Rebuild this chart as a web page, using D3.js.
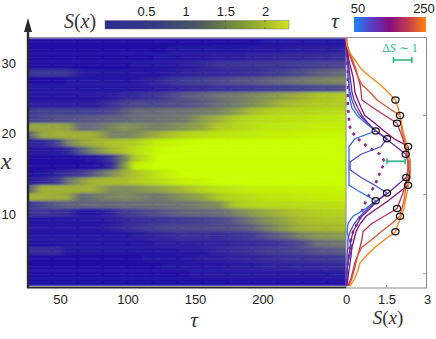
<!DOCTYPE html>
<html>
<head>
<meta charset="utf-8">
<script src="https://cdn.jsdelivr.net/npm/d3@7"></script>
<style>
  html, body { margin: 0; padding: 0; background: #fff; }
  svg { display: block; }
  text { font-family: "Liberation Sans", sans-serif; fill: #222; }
  .math { font-family: "Liberation Serif", serif; fill: #333; }
</style>
</head>
<body>
<div id="chart"></div>
<script>
// tau at each heatmap column
const tauCols = [28,37,48.5,56,66,74,78,88.5,98,105.5,122.6,142.6,155,167,179.6,192,204,216.7,229,241,262];

// S(x) per row, top row first
const heat = [
  [.08,.08,.08,.08,.08,.08,.08,.08,.08,.08,.08,.09,.09,.1,.1,.1,.11,.12,.13,.14,.15],
  [.1,.1,.1,.1,.1,.1,.1,.1,.1,.1,.1,.12,.12,.13,.14,.15,.17,.19,.2,.22,.25],
  [.1,.1,.1,.1,.1,.1,.1,.1,.1,.1,.11,.15,.17,.2,.22,.25,.28,.3,.32,.35,.38],
  [.1,.1,.1,.1,.1,.1,.1,.1,.1,.11,.12,.2,.3,.4,.42,.42,.45,.45,.5,.55,.6],
  [.42,.45,.45,.42,.2,.15,.14,.13,.13,.13,.14,.25,.3,.32,.35,.4,.45,.55,.65,.8,.95],
  [.1,.1,.1,.11,.11,.11,.12,.13,.14,.15,.3,.5,.55,.6,.7,.75,.85,.95,1.05,1.15,1.3],
  [.11,.11,.11,.11,.12,.12,.12,.13,.14,.16,.2,.32,.35,.4,.42,.45,.5,.52,.55,.62,.68],
  [.13,.13,.14,.14,.15,.15,.16,.2,.3,.32,.45,.75,.85,1,1.1,1.25,1.4,1.55,1.7,1.85,1.95],
  [.2,.2,.2,.2,.22,.22,.25,.4,.55,.6,.62,.7,.8,.95,1.1,1.3,1.55,1.75,1.85,1.9,1.95],
  [.5,.55,.55,.55,.55,.55,.55,.6,.8,.9,.95,1,1.1,1.2,1.5,1.8,1.95,2,2,2.05,2.1],
  [.55,.6,.7,.7,.75,.8,.8,.85,.9,.95,1,1.1,1.5,1.7,1.95,2.05,2.1,2.15,2.15,2.2,2.25],
  [1.6,1.6,1.6,1.55,.9,.95,1,1.2,1.4,1.3,1.15,1.4,1.6,1.9,2,2.1,2.2,2.2,2.25,2.3,2.3],
  [.9,1.6,1.7,1.7,1.7,1.7,1.6,1.2,1.2,1.3,1.7,2,2.1,2.15,2.2,2.25,2.3,2.3,2.35,2.35,2.4],
  [.25,.28,.6,1.2,1.6,1.7,1.75,1.85,1.9,1.95,2.3,2.45,2.5,2.5,2.5,2.5,2.5,2.5,2.5,2.5,2.5],
  [.15,.15,.2,.3,.8,1.2,1.4,1.75,1.9,2.1,2.45,2.5,2.5,2.5,2.5,2.5,2.5,2.5,2.5,2.5,2.5],
  [.1,.1,.1,.1,.1,.12,.2,.5,1.2,1.9,2.5,2.5,2.5,2.5,2.5,2.5,2.5,2.5,2.5,2.5,2.5],
  [.1,.1,.1,.1,.1,.1,.12,.35,1.5,2.3,2.5,2.5,2.5,2.5,2.5,2.5,2.5,2.5,2.5,2.5,2.5],
  [.1,.12,.3,.4,.5,.7,.9,1.3,1.7,1.85,2.2,2.5,2.5,2.5,2.5,2.5,2.5,2.5,2.5,2.5,2.5],
  [.2,.3,.5,1,1.5,1.7,1.75,1.8,1.8,1.9,2.1,2.35,2.4,2.5,2.5,2.5,2.5,2.5,2.5,2.5,2.5],
  [.9,1.7,1.7,1.7,1.7,1.7,1.6,1.3,1.3,1.35,1.55,1.8,2,2.15,2.2,2.3,2.3,2.3,2.35,2.35,2.4],
  [1.7,1.7,1.65,1.6,.9,1,1.1,1.2,1.3,1.2,1.05,1.4,1.6,1.9,2.05,2.1,2.2,2.2,2.25,2.3,2.3],
  [.45,.6,.8,.85,.88,.9,.9,.92,.95,.95,1,1.05,1.2,1.35,1.9,2,2.05,2.05,2.1,2.1,2.15],
  [.45,.45,.4,.35,.12,.12,.15,.3,.5,.55,.7,.9,.92,.95,1.2,1.5,1.65,1.8,1.9,1.95,2],
  [.13,.13,.13,.13,.14,.15,.16,.22,.3,.35,.42,.5,.55,.6,.8,1.1,1.4,1.6,1.8,1.85,1.9],
  [.15,.15,.15,.15,.16,.16,.18,.25,.35,.4,.55,.6,.62,.65,.7,.85,1.15,1.5,1.7,1.75,1.8],
  [.12,.12,.12,.12,.12,.12,.12,.13,.15,.2,.3,.4,.38,.35,.42,.5,.7,.9,1.2,1.4,1.5],
  [.12,.12,.12,.12,.12,.12,.12,.13,.14,.15,.2,.22,.25,.25,.3,.35,.4,.5,.65,.95,1.1],
  [.35,.35,.35,.15,.12,.12,.12,.12,.12,.12,.14,.15,.18,.3,.35,.4,.5,.55,.6,.7,.8],
  [.1,.1,.1,.1,.1,.1,.1,.1,.1,.1,.12,.15,.2,.22,.28,.3,.35,.4,.42,.45,.5],
  [.1,.1,.1,.1,.1,.1,.1,.1,.1,.1,.1,.15,.17,.18,.2,.22,.25,.27,.3,.32,.35],
  [.09,.09,.09,.09,.09,.09,.09,.09,.09,.09,.09,.1,.12,.12,.13,.15,.15,.16,.17,.18,.2],
  [.07,.07,.07,.07,.07,.07,.07,.07,.07,.07,.07,.07,.07,.07,.08,.08,.08,.08,.08,.09,.09]
];

// right panel: S(x) at every site (row edge), one list per tau
const curveTaus = [65, 90, 125, 150, 190, 220, 250];
const curveS = [
  [0,0,.04,.07,.11,.11,.11,.11,.15,.22,.41,.74,1.1,.33,.11,.11,.11,.11,.11,.11,.59,1.1,.74,.26,.07,.04,.11,.22,.15,.07,.04,0,0],
  [0,0,.04,.04,.07,.07,.11,.15,.22,.33,.52,.81,1.11,1.52,1.3,.56,.15,.15,.56,1.07,1.52,1.15,.81,.52,.3,.15,.07,.07,.04,.04,.04,0,0],
  [0,0,.04,.07,.11,.15,.19,.22,.3,.44,.59,.81,1.11,1.48,1.85,2.21,2.3,2.3,2.23,1.89,1.56,1.15,.89,.59,.41,.26,.19,.15,.11,.07,.04,.04,0],
  [0,.04,.07,.11,.19,.26,.3,.33,.44,.56,.7,1.07,1.41,1.78,2.3,2.33,2.37,2.37,2.33,2.3,1.93,1.56,1.15,.74,.52,.37,.3,.22,.19,.15,.11,.07,.04],
  [0,.04,.11,.22,.33,.44,.52,.56,.59,1,1.44,1.89,2,2.11,2.19,2.26,2.3,2.3,2.26,2.19,2.11,2,1.89,1.41,.93,.63,.59,.52,.44,.33,.26,.19,.07],
  [0,.04,.15,.26,.37,.44,.59,.89,1.15,1.56,2,2.04,2.07,2.15,2.22,2.26,2.3,2.3,2.26,2.22,2.19,2.15,2.07,2,1.67,1.3,.96,.59,.44,.37,.3,.22,.11],
  [0,.04,.15,.37,.56,.89,1.26,1.56,1.83,1.93,2,2.06,2.11,2.19,2.26,2.33,2.37,2.39,2.37,2.31,2.26,2.2,2.15,2.04,1.93,1.83,1.44,1.07,.78,.52,.44,.33,.15]
];
// sites circled on each curve
const curveMarks = [[12,21],[13,20],[15,18],[14,19],[11,22],[10,23],[8,25]];
const dottedS = [0,.04,.04,.04,.07,.07,.07,.07,.07,.07,.11,.11,.19,.44,.78,1.26,1.44,1.3,1.19,1.07,.89,.74,.63,.52,.41,.26,.19,.15,.11,.07,.04,.04,0];
// green scale bars: [S start, S end, site]
const deltaBars = [[1.76,2.44,2.84],[1.52,2.19,15.9]];

const tauTicks = [50,100,150,200];
const xTickSites = [22.8,12.3,3.3];
const xTickLabels = ["10","20","30"];
const sideTickSites = [10,20.2,30.4];
const sTicks = [0,1.5,3];
const cbarSTicks = [0.5,1,1.5,2];

const width = 436, height = 339;
const svg = d3.select("#chart").append("svg").attr("width", width).attr("height", height);
const defs = svg.append("defs");

const x = d3.scaleLinear().domain([50,200]).range([60,262.5]);
const site = d3.scaleLinear().domain([0,32]).range([38,286]);
const sx = d3.scaleLinear().domain([0,3]).range([346,427]);

const heatColor = d3.scaleLinear()
  .domain([0,.5,1,1.5,1.7,2,2.3,2.5])
  .range(["#1a06a8","#3f3b94","#6b7274","#8a9c4a","#a0b034","#b4d41a","#c2f006","#c8ff00"]);
const tauColor = d3.scaleLinear()
  .domain([50,100,150,200,250])
  .range(["#1c86f2","#5a3cc4","#84107c","#c43c50","#ff8410"]);

// heatmap: one gradient-filled band per row
const left = 29, right = 346;
defs.append("clipPath").attr("id","heatClip").append("rect")
  .attr("x",left).attr("y",site(0)).attr("width",right-left).attr("height",site(32)-site(0));
defs.append("filter").attr("id","soft").attr("x","-2%").attr("y","-2%").attr("width","104%").attr("height","104%")
  .append("feGaussianBlur").attr("stdDeviation","0.8");

heat.forEach((row,i) => {
  const g = defs.append("linearGradient").attr("id","row"+i)
    .attr("gradientUnits","userSpaceOnUse")
    .attr("x1",x(tauCols[0])).attr("x2",x(tauCols[tauCols.length-1])).attr("y1",0).attr("y2",0);
  row.forEach((v,j) => {
    g.append("stop")
      .attr("offset",(x(tauCols[j])-x(tauCols[0]))/(x(tauCols[tauCols.length-1])-x(tauCols[0])))
      .attr("stop-color",heatColor(v));
  });
});
const heatG = svg.append("g").attr("clip-path","url(#heatClip)");
heatG.append("g").attr("filter","url(#soft)")
  .selectAll("rect").data(heat).join("rect")
  .attr("x",left-4).attr("width",right-left+8)
  .attr("y",(d,i) => site(i)).attr("height",site(1)-site(0)+0.3)
  .attr("fill",(d,i) => "url(#row"+i+")");
// faint dashes seen along the rows
heatG.selectAll("line").data(heat).join("line")
  .attr("x1",left).attr("x2",right)
  .attr("y1",(d,i) => site(i+0.5)).attr("y2",(d,i) => site(i+0.5))
  .attr("stroke","#fff").attr("stroke-opacity",0.07).attr("stroke-dasharray","22 3");

// frame lines
const grey = "#8a8a8a";
svg.append("line").attr("x1",left).attr("x2",sx(3)).attr("y1",37.5).attr("y2",37.5).attr("stroke","#9a9a9a");
svg.append("line").attr("x1",sx(0)).attr("x2",sx(0)).attr("y1",38).attr("y2",288).attr("stroke",grey);
svg.append("line").attr("x1",426.5).attr("x2",426.5).attr("y1",38).attr("y2",288).attr("stroke",grey);
svg.append("line").attr("x1",346).attr("x2",427).attr("y1",288).attr("y2",288).attr("stroke",grey);

// side panel ticks
svg.selectAll(".sideTick").data(sideTickSites).join("line").attr("class","sideTick")
  .attr("x1",423).attr("x2",426).attr("y1",d => site(d)).attr("y2",d => site(d)).attr("stroke","#aaa");
svg.append("line").attr("x1",sx(1.5)).attr("x2",sx(1.5)).attr("y1",285).attr("y2",288).attr("stroke","#aaa");

// curves
const line = d3.line().x(d => sx(d)).y((d,i) => site(i));
svg.append("path").attr("d",line(dottedS)).attr("fill","none")
  .attr("stroke","#8b2a8b").attr("stroke-width",2.6).attr("stroke-dasharray","3 5");
curveS.forEach((c,i) => {
  svg.append("path").attr("d",line(c)).attr("fill","none")
    .attr("stroke",tauColor(curveTaus[i])).attr("stroke-width",1.3);
});
curveS.forEach((c,i) => {
  curveMarks[i].forEach(k => {
    svg.append("ellipse").attr("cx",sx(c[k])).attr("cy",site(k)).attr("rx",3.6).attr("ry",3.1)
      .attr("fill","none").attr("stroke","#111").attr("stroke-width",1.2);
  });
});

// delta S bars
const green = "#2fb87f";
deltaBars.forEach(b => {
  const g = svg.append("g").attr("stroke",green).attr("stroke-width",1.6);
  g.append("line").attr("x1",sx(b[0])).attr("x2",sx(b[1])).attr("y1",site(b[2])).attr("y2",site(b[2]));
  g.append("line").attr("x1",sx(b[0])).attr("x2",sx(b[0])).attr("y1",site(b[2])-3).attr("y2",site(b[2])+3);
  g.append("line").attr("x1",sx(b[1])).attr("x2",sx(b[1])).attr("y1",site(b[2])-3).attr("y2",site(b[2])+3);
});
const dl = svg.append("text").attr("class","math").attr("x",400).attr("y",52).attr("text-anchor","middle")
  .style("font-size","12px").style("fill",green);
dl.append("tspan").text("Δ");
dl.append("tspan").attr("font-style","italic").text("S");
dl.append("tspan").text(" ∼ 1");

// axes
const xAxis = svg.append("g").attr("transform","translate(0,288)")
  .call(d3.axisBottom(x).tickValues(tauTicks).tickSize(0).tickPadding(7));
const sAxis = svg.append("g").attr("transform","translate(0,288)")
  .call(d3.axisBottom(sx).tickValues(sTicks).tickFormat(d3.format("")).tickSize(0).tickPadding(7));
const yAxis = svg.append("g").attr("transform","translate(16,0)")
  .call(d3.axisLeft(site).tickValues(xTickSites).tickFormat((d,i) => xTickLabels[i]).tickSize(0).tickPadding(0));
[xAxis,sAxis,yAxis].forEach(a => {
  a.select(".domain").remove();
  a.selectAll("text").style("font-size","13px").style("font-family","'Liberation Sans', sans-serif").attr("fill","#222");
});

// thick left arrow and bottom line
svg.append("line").attr("x1",28).attr("x2",28).attr("y1",28).attr("y2",288).attr("stroke","#2a2a2a").attr("stroke-width",2.4);
svg.append("line").attr("x1",27).attr("x2",346).attr("y1",287.5).attr("y2",287.5).attr("stroke","#2a2a2a").attr("stroke-width",2);
svg.append("path").attr("d",d3.line()([[28,18],[32,32],[24,32]])+"Z").attr("fill","#2a2a2a");

// S(x) style labels
function sLabel(px,py,size) {
  const t = svg.append("text").attr("class","math").attr("x",px).attr("y",py).attr("text-anchor","middle")
    .style("font-size",size+"px");
  t.append("tspan").attr("font-style","italic").text("S");
  t.append("tspan").text("(");
  t.append("tspan").attr("font-style","italic").text("x");
  t.append("tspan").text(")");
}
sLabel(80,28,20);
sLabel(388,324,19);
function mathLabel(px,py,size,str) {
  svg.append("text").attr("class","math").attr("x",px).attr("y",py).attr("text-anchor","middle")
    .attr("font-style","italic").style("font-size",size+"px").text(str);
}
mathLabel(194,327,21,"τ");
mathLabel(335,28,22,"τ");
mathLabel(6,169,24,"x");

// S colorbar
const cb = d3.scaleLinear().domain([0.5,2]).range([146,265]);
const cbGrad = defs.append("linearGradient").attr("id","cbS");
[["0","#2a2a92"],["0.25","#333a84"],["0.5","#4c5560"],["0.75","#7f9a34"],["1","#d2e020"]].forEach(s => {
  cbGrad.append("stop").attr("offset",s[0]).attr("stop-color",s[1]);
});
svg.append("rect").attr("x",105).attr("y",20.5).attr("width",184).attr("height",8.5)
  .attr("fill","url(#cbS)").attr("stroke","#777").attr("stroke-width",0.5);
const cbAxis = svg.append("g").attr("transform","translate(0,20)")
  .call(d3.axisTop(cb).tickValues(cbarSTicks).tickFormat(d3.format("")).tickSize(0).tickPadding(4));
cbAxis.select(".domain").remove();
cbAxis.selectAll("text").style("font-size","13px").style("font-family","'Liberation Sans', sans-serif").attr("fill","#222");
svg.selectAll(".cbTick").data(cbarSTicks).join("line").attr("class","cbTick")
  .attr("x1",d => cb(d)).attr("x2",d => cb(d)).attr("y1",20.5).attr("y2",22).attr("stroke","#333").attr("stroke-width",.7);
svg.selectAll(".cbTick2").data(cbarSTicks).join("line").attr("class","cbTick2")
  .attr("x1",d => cb(d)).attr("x2",d => cb(d)).attr("y1",27.5).attr("y2",29).attr("stroke","#333").attr("stroke-width",.7);

// tau colorbar
const tb = d3.scaleLinear().domain([50,250]).range([354,426]);
const tbGrad = defs.append("linearGradient").attr("id","cbT");
tauColor.domain().forEach(t => {
  tbGrad.append("stop").attr("offset",(t-50)/200).attr("stop-color",tauColor(t));
});
svg.append("rect").attr("x",tb(50)).attr("y",17).attr("width",tb(250)-tb(50)).attr("height",15).attr("fill","url(#cbT)");
svg.append("text").attr("x",358).attr("y",13).attr("text-anchor","middle").style("font-size","13px").text("50");
svg.append("text").attr("x",424).attr("y",13).attr("text-anchor","middle").style("font-size","13px").text("250");
</script>
</body>
</html>
